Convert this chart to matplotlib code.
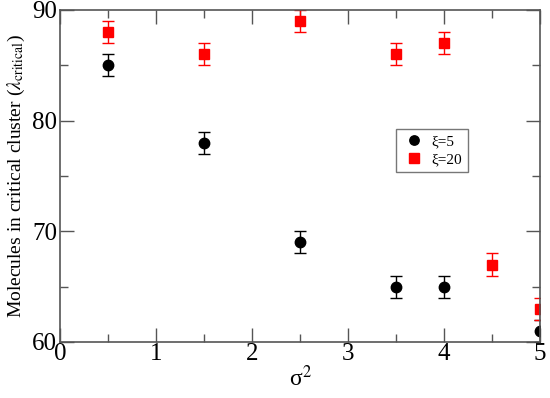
import numpy as np
import matplotlib.pyplot as plt

plt.rcParams['font.family'] = ['Liberation Serif', 'DejaVu Serif']
plt.rcParams['mathtext.fontset'] = 'stix'

# xi = 5
x5 = [0.5, 1.5, 2.5, 3.5, 4.0, 5.0]
y5 = [85, 78, 69, 65, 65, 61]
e5 = [1, 1, 1, 1, 1, 1]

# xi = 20
x20 = [0.5, 1.5, 2.5, 3.5, 4.0, 4.5, 5.0]
y20 = [88, 86, 89, 86, 87, 67, 63]
e20 = [1, 1, 1, 1, 1, 1, 1]

fig = plt.figure(figsize=(5.5, 3.98), dpi=100)
ax = fig.add_axes([60/550, 1 - 342/398, 480/550, 332/398])

ax.errorbar(x5, y5, yerr=e5, fmt='o', color='black', ms=7.5, capsize=4,
            elinewidth=1, capthick=1, label='ξ=5')
ax.errorbar(x20, y20, yerr=e20, fmt='s', color='red', ms=7.5, capsize=4,
            elinewidth=1, capthick=1, label='ξ=20')

ax.set_xlim(0, 5)
ax.set_ylim(60, 90)
ax.set_xticks([0, 1, 2, 3, 4, 5])
ax.set_xticks([0.5, 1.5, 2.5, 3.5, 4.5], minor=True)
ax.set_yticks([60, 70, 80, 90])
ax.set_yticks([65, 75, 85], minor=True)
ax.tick_params(which='both', direction='in', top=True, right=True, color='#555555', labelsize=18)
ax.tick_params(which='major', length=10, width=1)
ax.tick_params(which='minor', length=6, width=1)
ax.tick_params(axis='x', pad=1)
ax.tick_params(axis='y', pad=2)
for s in ax.spines.values():
    s.set_color('#555555')
    s.set_linewidth(1.2)

ax.set_xlabel('σ$^{2}$', fontsize=17, labelpad=0)
ax.set_ylabel(r'Molecules in critical cluster ($\lambda_{\mathrm{critical}}$)', fontsize=14, labelpad=4)

handles, labels = ax.get_legend_handles_labels()
handles = [h[0] for h in handles]
leg = ax.legend(handles, labels, loc='upper left', bbox_to_anchor=(336/480, 1 - 119/332),
                frameon=True, fancybox=False, fontsize=11, handletextpad=0.3,
                borderpad=0.4, labelspacing=0.25, handlelength=1.6, markerscale=0.9,
                borderaxespad=0)
leg.get_frame().set_edgecolor('#555555')
leg.get_frame().set_linewidth(1)

fig.savefig('out.png', dpi=100)
